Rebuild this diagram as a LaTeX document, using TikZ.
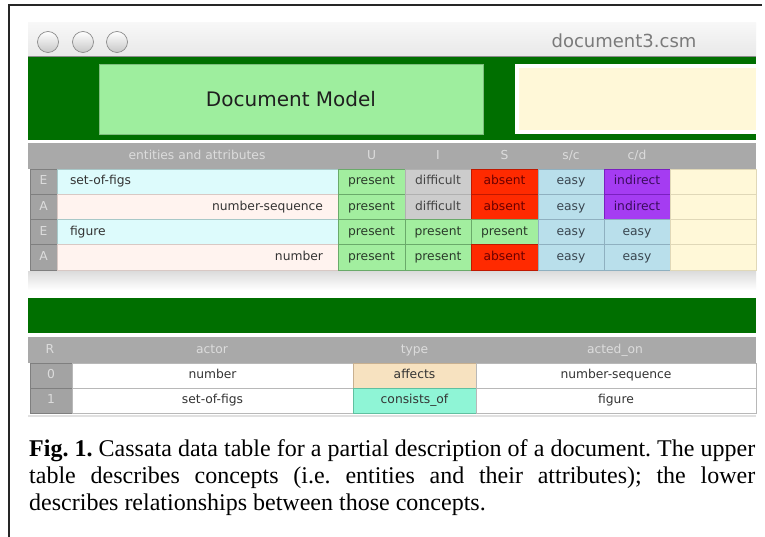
\documentclass[tikz,border=0pt]{standalone}
\usepackage{fontspec}
\setmainfont{Liberation Serif}
\newfontfamily\uifont{DejaVu Sans}
\definecolor{dkgreen}{HTML}{006F00}
\definecolor{ltgreen}{HTML}{9EEE9E}
\definecolor{paleyel}{HTML}{FFF8D8}
\definecolor{hdrgray}{HTML}{A9A9A9}
\definecolor{hdrtext}{HTML}{DCDCDC}
\definecolor{labgray}{HTML}{A3A3A3}
\definecolor{labbord}{HTML}{7F7F7F}
\definecolor{prfill}{HTML}{A2EE9F}
\definecolor{prbord}{HTML}{6AAA6A}
\definecolor{prtext}{HTML}{2A3A2A}
\definecolor{dffill}{HTML}{CCCCCC}
\definecolor{dfbord}{HTML}{B0B0B0}
\definecolor{dftext}{HTML}{444444}
\definecolor{abfill}{HTML}{FF2A00}
\definecolor{abbord}{HTML}{C01800}
\definecolor{abtext}{HTML}{6A0000}
\definecolor{esfill}{HTML}{B9DFEB}
\definecolor{esbord}{HTML}{8FB0C0}
\definecolor{estext}{HTML}{3A4650}
\definecolor{infill}{HTML}{A53CF2}
\definecolor{inbord}{HTML}{7A20C0}
\definecolor{intext}{HTML}{3A0C5C}
\definecolor{cyfill}{HTML}{DDFBFC}
\definecolor{cybord}{HTML}{A8C8C8}
\definecolor{pkfill}{HTML}{FFF3EF}
\definecolor{pkbord}{HTML}{D8C8C4}
\definecolor{yebord}{HTML}{E0D8B8}
\definecolor{affill}{HTML}{F7E2C0}
\definecolor{afbord}{HTML}{C8B090}
\definecolor{cofill}{HTML}{8FF5D6}
\definecolor{cobord}{HTML}{60C0A0}
\definecolor{whbord}{HTML}{B8B8B8}
\definecolor{celltext}{HTML}{333333}
\tikzset{
  cellbox/.style={rectangle, anchor=north west, inner sep=0pt, outer sep=0pt,
    font=\uifont\fontsize{12.3}{14}\selectfont, line width=0.8pt, text height=9pt, text depth=2.6pt},
  band/.style={rectangle, anchor=north west, inner sep=0pt, outer sep=0pt},
  captext/.style={anchor=base west, inner sep=0pt, font=\fontsize{24}{27}\selectfont\frenchspacing},
  hdrlab/.style={font=\uifont\fontsize{12.3}{14}\selectfont, text=hdrtext, inner sep=0pt, text height=9pt, text depth=2.6pt},
  winbtn/.style={circle, minimum size=21pt, inner sep=0pt, draw=black!45, line width=0.7pt,
    top color=white, bottom color=black!22},
}
% name, x, y, w, h, fill, border, text
\newcommand\mycell[8]{\node[cellbox, draw=#7, fill=#6, minimum width=#4pt, minimum height=#5pt] (#1) at (#2,#3) {#8};}
\begin{document}
\begin{tikzpicture}[x=1pt,y=-1pt]
\useasboundingbox (0,0) rectangle (765,537);
\fill[white] (0,0) rectangle (765,537);
% frame
\coordinate (fbl) at (9,537);
\coordinate (ftl) at (9,5);
\coordinate (ftr) at (762,5);
\draw[line width=1.6pt, black!85] (fbl) -- (ftl) -- (ftr);
% title bar
\node[band, minimum width=728pt, minimum height=34pt, top color=black!3, bottom color=black!9] (tbar) at (28,23) {};
\draw[black!45, line width=1pt] (tbar.south west) -- (tbar.south east);
\node[winbtn] (b1) at (48,42) {};
\node[winbtn] (b2) at (83,42) {};
\node[winbtn] (b3) at (117,42) {};
\node[font=\uifont\fontsize{18}{20}\selectfont, text=black!52, inner sep=0pt] (title) at (624,41) {document3.csm};
% green top band
\node[band, fill=dkgreen, minimum width=728pt, minimum height=83pt] (gband) at (28,57) {};
\node[band, fill=ltgreen, draw=ltgreen!80!black, line width=0.5pt, minimum width=384pt, minimum height=70pt,
  font=\uifont\fontsize{20}{22}\selectfont, text=black!88] (docmodel) at (99,64) {Document Model};
\node[band, fill=white, minimum width=241pt, minimum height=70pt] (yelout) at (515,64) {};
\node[band, fill=paleyel, minimum width=237pt, minimum height=62pt] (yelin) at (519,68) {};
% upper header
\node[band, fill=hdrgray, minimum width=728pt, minimum height=26pt] (hdr1) at (28,143) {};
\node[hdrlab] (h-ea) at (197,156) {entities and attributes};
\node[hdrlab] (h-u) at (371.5,156) {U};
\node[hdrlab] (h-i) at (438,156) {I};
\node[hdrlab] (h-s) at (504.5,156) {S};
\node[hdrlab] (h-sc) at (571,156) {s/c};
\node[hdrlab] (h-cd) at (637,156) {c/d};
% upper rows
% row 1
\mycell{l1}{30}{169}{27}{25.25}{labgray}{labbord}{\color{hdrtext}E}
\node[cellbox, draw=cybord, fill=cyfill, minimum width=281pt, minimum height=25.25pt, text width=281pt, align=left] (n1) at (57,169) {\hspace*{13pt}\color{celltext}set-of-figs};
\mycell{u1}{338}{169}{67}{25.25}{prfill}{prbord}{\color{prtext}present}
\mycell{i1}{405}{169}{66}{25.25}{dffill}{dfbord}{\color{dftext}difficult}
\mycell{s1}{471}{169}{67}{25.25}{abfill}{abbord}{\color{abtext}absent}
\mycell{sc1}{538}{169}{66}{25.25}{esfill}{esbord}{\color{estext}easy}
\mycell{cd1}{604}{169}{66}{25.25}{infill}{inbord}{\color{intext}indirect}
\mycell{y1}{670}{169}{86}{25.25}{paleyel}{yebord}{}
% row 2
\mycell{l2}{30}{194.25}{27}{25.25}{labgray}{labbord}{\color{hdrtext}A}
\node[cellbox, draw=pkbord, fill=pkfill, minimum width=281pt, minimum height=25.25pt, text width=281pt, align=right] (n2) at (57,194.25) {\color{celltext}number-sequence\hspace*{15pt}};
\mycell{u2}{338}{194.25}{67}{25.25}{prfill}{prbord}{\color{prtext}present}
\mycell{i2}{405}{194.25}{66}{25.25}{dffill}{dfbord}{\color{dftext}difficult}
\mycell{s2}{471}{194.25}{67}{25.25}{abfill}{abbord}{\color{abtext}absent}
\mycell{sc2}{538}{194.25}{66}{25.25}{esfill}{esbord}{\color{estext}easy}
\mycell{cd2}{604}{194.25}{66}{25.25}{infill}{inbord}{\color{intext}indirect}
\mycell{y2}{670}{194.25}{86}{25.25}{paleyel}{yebord}{}
% row 3
\mycell{l3}{30}{219.5}{27}{25.25}{labgray}{labbord}{\color{hdrtext}E}
\node[cellbox, draw=cybord, fill=cyfill, minimum width=281pt, minimum height=25.25pt, text width=281pt, align=left] (n3) at (57,219.5) {\hspace*{13pt}\color{celltext}figure};
\mycell{u3}{338}{219.5}{67}{25.25}{prfill}{prbord}{\color{prtext}present}
\mycell{i3}{405}{219.5}{66}{25.25}{prfill}{prbord}{\color{prtext}present}
\mycell{s3}{471}{219.5}{67}{25.25}{prfill}{prbord}{\color{prtext}present}
\mycell{sc3}{538}{219.5}{66}{25.25}{esfill}{esbord}{\color{estext}easy}
\mycell{cd3}{604}{219.5}{66}{25.25}{esfill}{esbord}{\color{estext}easy}
\mycell{y3}{670}{219.5}{86}{25.25}{paleyel}{yebord}{}
% row 4
\mycell{l4}{30}{244.75}{27}{25.25}{labgray}{labbord}{\color{hdrtext}A}
\node[cellbox, draw=pkbord, fill=pkfill, minimum width=281pt, minimum height=25.25pt, text width=281pt, align=right] (n4) at (57,244.75) {\color{celltext}number\hspace*{15pt}};
\mycell{u4}{338}{244.75}{67}{25.25}{prfill}{prbord}{\color{prtext}present}
\mycell{i4}{405}{244.75}{66}{25.25}{prfill}{prbord}{\color{prtext}present}
\mycell{s4}{471}{244.75}{67}{25.25}{abfill}{abbord}{\color{abtext}absent}
\mycell{sc4}{538}{244.75}{66}{25.25}{esfill}{esbord}{\color{estext}easy}
\mycell{cd4}{604}{244.75}{66}{25.25}{esfill}{esbord}{\color{estext}easy}
\mycell{y4}{670}{244.75}{86}{25.25}{paleyel}{yebord}{}
% shadow strip
\node[band, minimum width=728pt, minimum height=19pt, top color=black!14, bottom color=white] (strip) at (28,271) {};
% second green band
\node[band, fill=dkgreen, minimum width=728pt, minimum height=35pt] (gband2) at (28,298) {};
% lower header
\node[band, fill=hdrgray, minimum width=728pt, minimum height=26pt] (hdr2) at (28,337) {};
\node[hdrlab] (h-r) at (50,350) {R};
\node[hdrlab] (h-actor) at (212,350) {actor};
\node[hdrlab] (h-type) at (414.5,350) {type};
\node[hdrlab] (h-acted) at (615,350) {acted\_on};
% lower rows
\mycell{r0}{30}{363}{42}{25}{labgray}{labbord}{\color{hdrtext}0}
\mycell{a0}{72}{363}{281}{25}{white}{whbord}{\color{celltext}number}
\mycell{t0}{353}{363}{123}{25}{affill}{afbord}{\color{celltext}affects}
\mycell{o0}{476}{363}{280}{25}{white}{whbord}{\color{celltext}number-sequence}
\mycell{r1}{30}{388}{42}{25}{labgray}{labbord}{\color{hdrtext}1}
\mycell{a1}{72}{388}{281}{25}{white}{whbord}{\color{celltext}set-of-figs}
\mycell{t1}{353}{388}{123}{25}{cofill}{cobord}{\color{celltext}consists\_of}
\mycell{o1}{476}{388}{280}{25}{white}{whbord}{\color{celltext}figure}
\coordinate (bl1) at (28,416);
\coordinate (bl2) at (756,416);
\draw[black!12, line width=1.5pt] (bl1) -- (bl2);
% caption
\node[captext] (cap1) at (29,456) {\makebox[726pt][s]{\textbf{Fig. 1.} Cassata data table for a partial description of a document. The upper}};
\node[captext] (cap2) at (29,483.5) {\makebox[726pt][s]{table describes concepts (i.e. entities and their attributes); the lower}};
\node[captext] (cap3) at (29,510.5) {describes relationships between those concepts.};
\end{tikzpicture}
\end{document}
